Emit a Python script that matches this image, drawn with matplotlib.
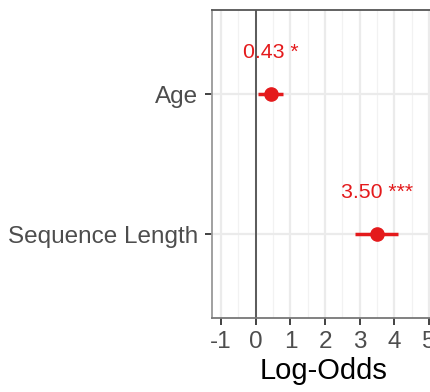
import matplotlib
matplotlib.use("Agg")
import matplotlib.pyplot as plt
import numpy as np

plt.rcParams['font.family'] = ['Liberation Sans', 'DejaVu Sans']

terms = ["Sequence Length", "Age"]
estimates = [3.50, 0.43]
ci_low = [2.85, 0.06]
ci_high = [4.09, 0.79]
labels = ["3.50 ***", "0.43 *"]
xticks = [-1, 0, 1, 2, 3, 4, 5]

red = "#E41A1C"
fig = plt.figure(figsize=(4.30, 3.92), dpi=100)
ax = fig.add_axes([212/430, 1 - 318/392, 1 - 212/430 + 0.01, 308/392])

ypos = np.arange(1, len(terms) + 1)
ax.set_xlim(-1.26, 5.15)
ax.set_ylim(0.4, 2.6)

# grid
for x in np.arange(-1, 5.5, 1):
    ax.axvline(x, color="#EBEBEB", lw=1.6, zorder=0)
for x in np.arange(-0.5, 5.5, 1):
    ax.axvline(x, color="#F2F2F2", lw=0.9, zorder=0)
for y in ypos:
    ax.axhline(y, color="#EBEBEB", lw=1.6, zorder=0)
ax.axvline(0, color="#333333", lw=1.1, zorder=1)

for y, e, lo, hi, lab in zip(ypos, estimates, ci_low, ci_high, labels):
    ax.plot([lo, hi], [y, y], color=red, lw=2.5, solid_capstyle="butt", zorder=3)
    ax.plot(e, y, "o", color=red, ms=9.5, zorder=4)
    ax.text(e, y + 0.30, lab, color=red, fontsize=15.3, ha="center", va="center")

ax.set_yticks(ypos)
ax.set_yticklabels(terms)
ax.set_xticks(xticks)
ax.set_xticklabels([str(t) for t in xticks])
ax.tick_params(axis="both", colors="#333333", labelcolor="#4D4D4D", labelsize=17.5, length=5, width=1.3)
ax.tick_params(axis="x", pad=4)
ax.tick_params(axis="y", pad=5)
ax.set_xlabel("Log-Odds", fontsize=21, color="black", labelpad=3)

ax.spines["right"].set_visible(False)
ax.spines["top"].set_color("#555555")
ax.spines["top"].set_linewidth(1.3)
ax.spines["left"].set_color("#999999")
ax.spines["left"].set_linewidth(1.3)
ax.spines["bottom"].set_color("#777777")
ax.spines["bottom"].set_linewidth(1.3)

fig.savefig("out.png", dpi=100)
